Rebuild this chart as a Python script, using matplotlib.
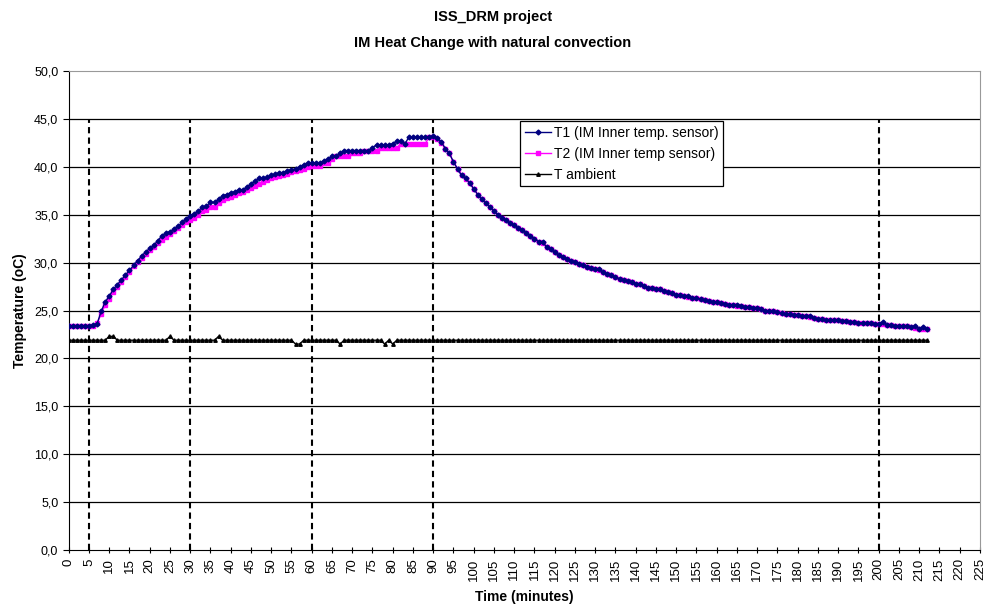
import matplotlib
matplotlib.use("Agg")
import matplotlib.pyplot as plt
from matplotlib.ticker import FuncFormatter, MultipleLocator
import numpy as np

plt.rcParams['font.family'] = ['Liberation Sans', 'DejaVu Sans']

# readings every minute, t = 0 .. 212
minutes = list(range(0, 213))

t1_vals = [
    23.4, 23.4, 23.4, 23.4, 23.4, 23.4, 23.5, 23.6, 24.9, 25.9,
    26.5, 27.2, 27.7, 28.2, 28.7, 29.2, 29.7, 30.2, 30.7, 31.1,
    31.5, 31.8, 32.3, 32.8, 33.1, 33.2, 33.5, 33.8, 34.2, 34.6,
    34.9, 35.1, 35.4, 35.8, 35.9, 36.3, 36.3, 36.6, 37.0, 37.1,
    37.3, 37.4, 37.6, 37.6, 37.9, 38.2, 38.5, 38.8, 38.8, 38.9,
    39.1, 39.2, 39.4, 39.4, 39.6, 39.7, 39.8, 40.0, 40.2, 40.4,
    40.4, 40.4, 40.4, 40.6, 40.8, 41.1, 41.1, 41.4, 41.7, 41.7,
    41.7, 41.7, 41.7, 41.7, 41.7, 42.0, 42.3, 42.3, 42.3, 42.3,
    42.4, 42.7, 42.7, 42.4, 43.1, 43.1, 43.1, 43.1, 43.1, 43.1,
    43.2, 43.0, 42.6, 41.9, 41.4, 40.5, 39.8, 39.1, 38.8, 38.3,
    37.7, 37.1, 36.6, 36.2, 35.8, 35.4, 35.0, 34.7, 34.4, 34.1,
    33.9, 33.6, 33.4, 33.1, 32.8, 32.5, 32.2, 32.2, 31.6, 31.4,
    31.1, 30.8, 30.6, 30.4, 30.2, 30.1, 29.9, 29.7, 29.5, 29.4,
    29.3, 29.3, 29.0, 28.8, 28.7, 28.5, 28.3, 28.2, 28.1, 28.0,
    27.8, 27.8, 27.6, 27.4, 27.4, 27.2, 27.2, 27.0, 26.9, 26.8,
    26.6, 26.6, 26.5, 26.5, 26.3, 26.3, 26.2, 26.1, 26.0, 25.9,
    25.9, 25.8, 25.7, 25.6, 25.6, 25.6, 25.5, 25.4, 25.4, 25.3,
    25.3, 25.2, 25.0, 24.9, 24.9, 24.8, 24.7, 24.6, 24.6, 24.5,
    24.5, 24.4, 24.4, 24.4, 24.2, 24.1, 24.1, 24.0, 24.0, 24.0,
    24.0, 23.9, 23.9, 23.8, 23.8, 23.7, 23.7, 23.7, 23.7, 23.6,
    23.6, 23.8, 23.5, 23.5, 23.4, 23.4, 23.4, 23.4, 23.3, 23.4,
    23.1, 23.3, 23.1,
]

t2_vals = [
    23.4, 23.4, 23.4, 23.4, 23.4, 23.4, 23.4, 23.7, 24.6, 25.6,
    26.2, 26.9, 27.5, 28.0, 28.5, 29.0, 29.6, 30.1, 30.5, 30.9,
    31.3, 31.6, 32.0, 32.4, 32.7, 33.0, 33.3, 33.6, 33.9, 34.2,
    34.4, 34.7, 35.0, 35.4, 35.5, 35.8, 35.8, 36.2, 36.5, 36.7,
    36.9, 37.1, 37.3, 37.4, 37.6, 37.8, 38.0, 38.2, 38.4, 38.6,
    38.8, 38.9, 39.0, 39.1, 39.3, 39.5, 39.6, 39.7, 39.8, 40.0,
    40.1, 40.1, 40.1, 40.4, 40.4, 40.8, 41.1, 41.1, 41.1, 41.1,
    41.4, 41.4, 41.4, 41.7, 41.7, 41.7, 41.7, 42.0, 42.0, 42.0,
    42.0, 42.0, 42.4, 42.4, 42.4, 42.4, 42.4, 42.4, 42.4, 43.1,
    43.1, 42.9, 42.5, 41.9, 41.4, 40.5, 39.8, 39.1, 38.7, 38.3,
    37.7, 37.1, 36.6, 36.2, 35.8, 35.4, 35.0, 34.7, 34.4, 34.1,
    33.9, 33.6, 33.4, 33.1, 32.8, 32.5, 32.2, 32.0, 31.6, 31.4,
    31.1, 30.8, 30.6, 30.4, 30.2, 30.1, 29.9, 29.7, 29.5, 29.4,
    29.3, 29.2, 29.0, 28.8, 28.7, 28.5, 28.3, 28.2, 28.1, 28.0,
    27.8, 27.8, 27.6, 27.4, 27.3, 27.2, 27.2, 27.0, 26.9, 26.8,
    26.6, 26.6, 26.5, 26.4, 26.3, 26.3, 26.2, 26.1, 26.0, 25.9,
    25.9, 25.8, 25.7, 25.6, 25.6, 25.5, 25.5, 25.4, 25.4, 25.3,
    25.3, 25.2, 25.0, 24.9, 24.9, 24.8, 24.7, 24.6, 24.6, 24.5,
    24.5, 24.4, 24.4, 24.3, 24.2, 24.1, 24.1, 24.0, 24.0, 24.0,
    24.0, 23.9, 23.9, 23.8, 23.8, 23.7, 23.7, 23.7, 23.7, 23.6,
    23.6, 23.6, 23.5, 23.5, 23.4, 23.4, 23.4, 23.4, 23.3, 23.2,
    23.1, 23.1, 23.1,
]

ambient_vals = [
    21.9, 21.9, 21.9, 21.9, 21.9, 21.9, 21.9, 21.9, 21.9, 21.9,
    22.3, 22.3, 21.9, 21.9, 21.9, 21.9, 21.9, 21.9, 21.9, 21.9,
    21.9, 21.9, 21.9, 21.9, 21.9, 22.3, 21.9, 21.9, 21.9, 21.9,
    21.9, 21.9, 21.9, 21.9, 21.9, 21.9, 21.9, 22.3, 21.9, 21.9,
    21.9, 21.9, 21.9, 21.9, 21.9, 21.9, 21.9, 21.9, 21.9, 21.9,
    21.9, 21.9, 21.9, 21.9, 21.9, 21.9, 21.5, 21.5, 21.9, 21.9,
    21.9, 21.9, 21.9, 21.9, 21.9, 21.9, 21.9, 21.5, 21.9, 21.9,
    21.9, 21.9, 21.9, 21.9, 21.9, 21.9, 21.9, 21.9, 21.5, 21.9,
    21.5, 21.9, 21.9, 21.9, 21.9, 21.9, 21.9, 21.9, 21.9, 21.9,
    21.9, 21.9, 21.9, 21.9, 21.9, 21.9, 21.9, 21.9, 21.9, 21.9,
    21.9, 21.9, 21.9, 21.9, 21.9, 21.9, 21.9, 21.9, 21.9, 21.9,
    21.9, 21.9, 21.9, 21.9, 21.9, 21.9, 21.9, 21.9, 21.9, 21.9,
    21.9, 21.9, 21.9, 21.9, 21.9, 21.9, 21.9, 21.9, 21.9, 21.9,
    21.9, 21.9, 21.9, 21.9, 21.9, 21.9, 21.9, 21.9, 21.9, 21.9,
    21.9, 21.9, 21.9, 21.9, 21.9, 21.9, 21.9, 21.9, 21.9, 21.9,
    21.9, 21.9, 21.9, 21.9, 21.9, 21.9, 21.9, 21.9, 21.9, 21.9,
    21.9, 21.9, 21.9, 21.9, 21.9, 21.9, 21.9, 21.9, 21.9, 21.9,
    21.9, 21.9, 21.9, 21.9, 21.9, 21.9, 21.9, 21.9, 21.9, 21.9,
    21.9, 21.9, 21.9, 21.9, 21.9, 21.9, 21.9, 21.9, 21.9, 21.9,
    21.9, 21.9, 21.9, 21.9, 21.9, 21.9, 21.9, 21.9, 21.9, 21.9,
    21.9, 21.9, 21.9, 21.9, 21.9, 21.9, 21.9, 21.9, 21.9, 21.9,
    21.9, 21.9, 21.9,
]

# phase markers (minutes)
phase_marks = [5, 30, 60, 90, 200]

fig = plt.figure(figsize=(9.86, 6.06), dpi=100)
ax = fig.add_axes([0.0697, 0.0924, 0.9242, 0.7904])

for y in range(5, 50, 5):
    ax.axhline(y, color='black', lw=0.9, zorder=1)

ax.vlines(phase_marks, 0, 45, colors='black', linestyles=(0, (3, 2)), lw=1.5, zorder=2)

ax.plot(minutes, t1_vals, color='#000080', lw=1.0, marker='D', ms=2.5,
        label='T1 (IM Inner temp. sensor)', zorder=4)
ax.plot(minutes, t2_vals, color='#FF00FF', lw=1.0, marker='s', ms=2.5,
        label='T2 (IM Inner temp sensor)', zorder=3)
ax.plot(minutes, ambient_vals, color='black', lw=1.0, marker='^', ms=2.5,
        label='T ambient', zorder=3)

ax.set_xlim(0, 225)
ax.set_ylim(0, 50)
ax.xaxis.set_major_locator(MultipleLocator(5))
ax.yaxis.set_major_locator(MultipleLocator(5))
ax.yaxis.set_major_formatter(FuncFormatter(lambda v, p: f"{v:.1f}".replace('.', ',')))
ax.tick_params(axis='x', labelrotation=90, labelsize=9.5, direction='inout', length=5)
ax.tick_params(axis='y', labelsize=9, direction='out', length=4)

for s in ['top', 'right']:
    ax.spines[s].set_color('#999999')
for s in ['left', 'bottom']:
    ax.spines[s].set_color('black')

ax.set_xlabel('Time (minutes)', fontsize=10, fontweight='bold', labelpad=7)
ax.set_ylabel('Temperature (oC)', fontsize=10, fontweight='bold', labelpad=5)
fig.text(0.5, 0.972, 'ISS_DRM project', ha='center', va='center',
         fontsize=10.5, fontweight='bold')
fig.text(0.5, 0.929, 'IM Heat Change with natural convection', ha='center', va='center',
         fontsize=10.5, fontweight='bold')

leg = ax.legend(loc='upper left', bbox_to_anchor=(0.495, 0.896), fontsize=10,
                frameon=True, fancybox=False, framealpha=1, edgecolor='black',
                borderpad=0.35, labelspacing=0.5, handlelength=1.9, handletextpad=0.2,
                borderaxespad=0)
leg.get_frame().set_linewidth(0.9)

fig.savefig('out.png', dpi=100)
